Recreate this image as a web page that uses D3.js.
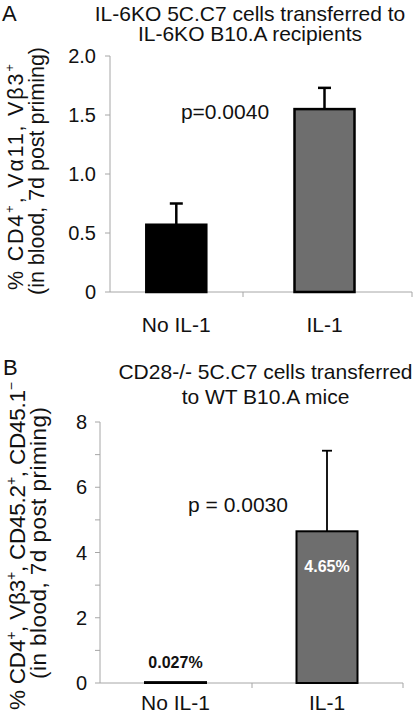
<!DOCTYPE html>
<html>
<head>
<meta charset="utf-8">
<script src="https://cdn.jsdelivr.net/npm/d3@7"></script>
<style>
  html, body { margin: 0; padding: 0; background: #fff; }
  svg { display: block; font-family: "Liberation Sans", Arial, sans-serif; }
</style>
</head>
<body>
<svg id="chart" width="415" height="713"></svg>
<script>
// ---- data ----
const categories = ["No IL-1", "IL-1"];
const valuesA = [0.57, 1.55];
const errorsA = [0.18, 0.18];
const ticksA = [0, 0.5, 1.0, 1.5, 2.0];
const tickLabelsA = ["0", "0.5", "1.0", "1.5", "2.0"];
const valuesB = [0.027, 4.65];
const errorsB = [0, 2.47];
const ticksB = [0, 2, 4, 6, 8];
const minorTicksB = [1, 3, 5, 7];
const tickLabelsB = ["0", "2", "4", "6", "8"];
const barLabelsB = ["0.027%", "4.65%"];
const titleA = ["IL-6KO 5C.C7 cells transferred to", "IL-6KO B10.A recipients"];
const titleB = ["CD28-/- 5C.C7 cells transferred", "to WT B10.A mice"];
const pA = "p=0.0040";
const pB = "p = 0.0030";

const svg = d3.select("#chart");
const AX = "#a6a6a6";

function panel(cfg) {
  const g = svg.append("g");
  const y = d3.scaleLinear().domain(cfg.domain).range([cfg.y0, cfg.y1]);
  const x = d3.scalePoint().domain(categories).range(cfg.xc);

  // panel letter
  g.append("text").attr("x", cfg.letterX).attr("y", cfg.letterY)
    .attr("font-size", 22).attr("fill", "#111").text(cfg.letter);
  // title
  cfg.title.forEach((t, i) => {
    g.append("text").attr("x", cfg.titleX).attr("y", cfg.titleY[i])
      .attr("text-anchor", "middle").attr("font-size", 21).attr("fill", "#111").text(t);
  });

  // y axis line
  g.append("line").attr("x1", cfg.ax).attr("x2", cfg.ax)
    .attr("y1", y(cfg.domain[1])).attr("y2", y(0)).attr("stroke", AX).attr("stroke-width", 1);
  // y ticks
  const allTicks = cfg.ticks.concat(cfg.minor || []);
  g.selectAll(".yt").data(allTicks).enter().append("line")
    .attr("x1", cfg.ax - 5).attr("x2", cfg.ax)
    .attr("y1", d => y(d)).attr("y2", d => y(d)).attr("stroke", AX);
  g.selectAll(".yl").data(cfg.ticks).enter().append("text")
    .attr("x", cfg.labelX).attr("y", d => y(d)).attr("dy", "0.36em")
    .attr("text-anchor", "end").attr("font-size", 20).attr("fill", "#111")
    .text((d, i) => cfg.tickLabels[i]);

  // x axis
  g.append("line").attr("x1", cfg.ax).attr("x2", cfg.xEnd)
    .attr("y1", y(0)).attr("y2", y(0)).attr("stroke", AX);
  cfg.xTicks.forEach(xt => {
    g.append("line").attr("x1", xt).attr("x2", xt).attr("y1", y(0)).attr("y2", y(0) + 5).attr("stroke", AX);
  });
  g.selectAll(".xl").data(categories).enter().append("text")
    .attr("x", d => x(d)).attr("y", cfg.xLabelY).attr("text-anchor", "middle")
    .attr("font-size", 21).attr("fill", "#111").text(d => d);

  // error bars (upper only)
  const idx = d => categories.indexOf(d);
  const errCats = categories.filter((d, i) => cfg.errors[i] > 0);
  g.selectAll(".eb").data(errCats).enter().append("line")
    .attr("x1", d => x(d)).attr("x2", d => x(d))
    .attr("y1", d => y(cfg.values[idx(d)]))
    .attr("y2", d => y(cfg.values[idx(d)] + cfg.errors[idx(d)]))
    .attr("stroke", "#000").attr("stroke-width", cfg.ebW);
  g.selectAll(".ec").data(errCats).enter().append("line")
    .attr("x1", d => x(d) - cfg.capW / 2).attr("x2", d => x(d) + cfg.capW / 2)
    .attr("y1", d => y(cfg.values[idx(d)] + cfg.errors[idx(d)]))
    .attr("y2", d => y(cfg.values[idx(d)] + cfg.errors[idx(d)]))
    .attr("stroke", "#000").attr("stroke-width", cfg.ebW);

  // bars
  g.selectAll(".bar").data(categories).enter().append("rect")
    .attr("x", d => x(d) - cfg.barW / 2).attr("width", cfg.barW)
    .attr("y", (d, i) => y(cfg.values[i]))
    .attr("height", (d, i) => y(0) - y(cfg.values[i]))
    .attr("fill", (d, i) => cfg.fills[i])
    .attr("stroke", "#000").attr("stroke-width", cfg.barStroke);

  // p value
  g.append("text").attr("x", cfg.pX).attr("y", cfg.pY).attr("text-anchor", "middle")
    .attr("font-size", 21).attr("fill", "#111").text(cfg.p);

  // y title (rotated, two lines)
  cfg.yTitle.forEach((parts, li) => {
    const fs = cfg.yTitleSize;
    const t = g.append("text")
      .attr("transform", `translate(${cfg.yTitleX[li]},${cfg.yTitleY[li]}) rotate(-90)`)
      .attr("text-anchor", "middle").attr("font-size", fs).attr("fill", "#111")
      .attr("textLength", cfg.yTitleLen[li]).attr("lengthAdjust", "spacing");
    let raised = false;
    parts.forEach(p => {
      const ts = t.append("tspan").text(p.t);
      if (p.sup) {
        ts.attr("font-size", fs * 0.62);
        if (!raised) { ts.attr("dy", -fs * 0.42); raised = true; }
      } else if (raised) {
        ts.attr("dy", fs * 0.42); raised = false;
      }
    });
  });
  return { g, x, y };
}

const A = panel({
  letter: "A", letterX: 2, letterY: 21,
  title: titleA, titleX: 250, titleY: [21, 41],
  domain: [0, 2], y0: 292, y1: 56, ax: 110, xEnd: 412, xTicks: [243, 412],
  xc: [176.3, 324.5], barW: 60, barStroke: 2.5,
  fills: ["#000000", "#6e6e6e"],
  values: valuesA, errors: errorsA, ebW: 2.5, capW: 13,
  ticks: ticksA, tickLabels: tickLabelsA, labelX: 96,
  xLabelY: 332, p: pA, pX: 225, pY: 119,
  yTitleSize: 21.5, yTitleX: [23, 44], yTitleY: [177, 171], yTitleLen: [226, 248],
  yTitle: [
    [{t: "% CD4"}, {t: "+", sup: true}, {t: ", V\u03B111, V\u03B23"}, {t: "+", sup: true}],
    [{t: "(in blood, 7d post priming)"}]
  ]
});

const B = panel({
  letter: "B", letterX: 3, letterY: 375,
  title: titleB, titleX: 265.5, titleY: [379, 404],
  domain: [0, 8], y0: 683, y1: 422, ax: 100, xEnd: 403, xTicks: [252, 403],
  xc: [175.5, 327], barW: 61, barStroke: 2,
  fills: ["#000000", "#6e6e6e"],
  values: valuesB, errors: errorsB, ebW: 1.8, capW: 10,
  ticks: ticksB, minor: minorTicksB, tickLabels: tickLabelsB, labelX: 87,
  xLabelY: 710, p: pB, pX: 238, pY: 512,
  yTitleSize: 22.5, yTitleX: [25, 46], yTitleY: [546, 543], yTitleLen: [328, 272],
  yTitle: [
    [{t: "% CD4"}, {t: "+", sup: true}, {t: ", V\u03B23"}, {t: "+", sup: true}, {t: ", CD45.2"}, {t: "+", sup: true}, {t: ", CD45.1"}, {t: "\u2212", sup: true}],
    [{t: "(in blood, 7d post priming)"}]
  ]
});

// bar value labels in panel B
B.g.selectAll(".bl").data(categories).enter().append("text")
  .attr("x", d => B.x(d))
  .attr("y", (d, i) => i === 0 ? B.y(valuesB[i]) - 14 : B.y(valuesB[i]) + 41)
  .attr("text-anchor", "middle").attr("font-size", 16).attr("font-weight", "bold")
  .attr("fill", (d, i) => i === 0 ? "#111" : "#fff")
  .text((d, i) => barLabelsB[i]);
</script>
</body>
</html>
